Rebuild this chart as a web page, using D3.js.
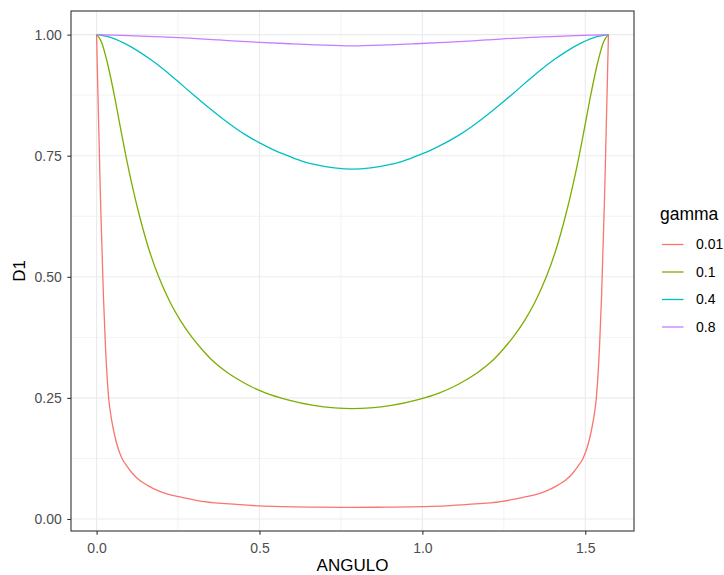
<!DOCTYPE html>
<html>
<head>
<meta charset="utf-8">
<script src="https://cdn.jsdelivr.net/npm/d3@7"></script>
<style>
  html, body { margin: 0; padding: 0; background: #fff; }
  svg { display: block; font-family: "Liberation Sans", Arial, sans-serif; }
</style>
</head>
<body>
<svg id="chart" width="724" height="575"></svg>
<script>
// ---- data ----
const gammaLevels = ["0.01", "0.1", "0.4", "0.8"];
const seriesColors = ["#F8766D", "#7CAE00", "#00BFC4", "#C77CFF"];

const angle001 = [0, 0.003, 0.008, 0.012, 0.017, 0.021, 0.027, 0.037, 0.046, 0.054, 0.065, 0.078, 0.092, 0.109, 0.130, 0.155, 0.190, 0.226, 0.260, 0.330, 0.430, 0.500, 0.570, 0.680, 0.785,
                  0.891, 1.001, 1.071, 1.141, 1.241, 1.311, 1.345, 1.381, 1.416, 1.441, 1.462, 1.479, 1.493, 1.506, 1.517, 1.525, 1.534, 1.544, 1.550, 1.554, 1.559, 1.563, 1.568, 1.571];
const d1_001 = [1, 0.91, 0.77, 0.66, 0.55, 0.46, 0.36, 0.25, 0.205, 0.177, 0.148, 0.125, 0.110, 0.095, 0.081, 0.070, 0.058, 0.050, 0.045, 0.036, 0.030, 0.027, 0.0255, 0.0245, 0.024,
                0.0245, 0.0255, 0.027, 0.030, 0.036, 0.045, 0.050, 0.058, 0.070, 0.081, 0.095, 0.110, 0.125, 0.148, 0.177, 0.205, 0.25, 0.36, 0.46, 0.55, 0.66, 0.77, 0.91, 1];

const angle01 = [0, 0.015, 0.032, 0.054, 0.072, 0.090, 0.110, 0.132, 0.160, 0.190, 0.226, 0.257, 0.293, 0.325, 0.359, 0.400, 0.440, 0.477, 0.520, 0.584, 0.666, 0.730, 0.785,
                 0.841, 0.905, 0.987, 1.051, 1.094, 1.131, 1.171, 1.212, 1.246, 1.278, 1.314, 1.345, 1.381, 1.411, 1.439, 1.461, 1.481, 1.499, 1.517, 1.539, 1.556, 1.571];
const d1_01 = [1, 0.985, 0.945, 0.876, 0.812, 0.749, 0.686, 0.625, 0.558, 0.501, 0.447, 0.410, 0.375, 0.349, 0.325, 0.303, 0.286, 0.2725, 0.260, 0.2465, 0.2345, 0.2295, 0.228,
               0.2295, 0.2345, 0.2465, 0.260, 0.2725, 0.286, 0.303, 0.325, 0.349, 0.375, 0.410, 0.447, 0.501, 0.558, 0.625, 0.686, 0.749, 0.812, 0.876, 0.945, 0.985, 1];

const angle04 = [0, 0.040, 0.083, 0.125, 0.165, 0.210, 0.252, 0.295, 0.339, 0.380, 0.420, 0.460, 0.502, 0.550, 0.594, 0.635, 0.676, 0.730, 0.785,
                 0.841, 0.895, 0.936, 0.977, 1.021, 1.069, 1.111, 1.151, 1.191, 1.232, 1.276, 1.319, 1.361, 1.406, 1.446, 1.488, 1.531, 1.571];
const d1_04 = [1, 0.995, 0.983, 0.967, 0.949, 0.926, 0.902, 0.877, 0.852, 0.830, 0.810, 0.792, 0.776, 0.760, 0.748, 0.738, 0.731, 0.725, 0.7225,
               0.725, 0.731, 0.738, 0.748, 0.760, 0.776, 0.792, 0.810, 0.830, 0.852, 0.877, 0.902, 0.926, 0.949, 0.967, 0.983, 0.995, 1];

const angle08 = [0, 0.100, 0.174, 0.252, 0.375, 0.502, 0.600, 0.676, 0.785, 0.895, 0.971, 1.069, 1.196, 1.319, 1.397, 1.471, 1.571];
const d1_08 = [1, 0.998, 0.996, 0.994, 0.989, 0.984, 0.981, 0.979, 0.977, 0.979, 0.981, 0.984, 0.989, 0.994, 0.996, 0.998, 1];

const xTicks = [0, 0.5, 1.0, 1.5];
const xMinor = [0.25, 0.75, 1.25];
const yTicks = [0, 0.25, 0.5, 0.75, 1.0];
const yMinor = [0.125, 0.375, 0.625, 0.875];

// ---- build series ----
const angleArrays = [angle001, angle01, angle04, angle08];
const valueArrays = [d1_001, d1_01, d1_04, d1_08];
const series = gammaLevels.map((g, i) => ({
  gamma: g,
  color: seriesColors[i],
  points: angleArrays[i].map((a, j) => ({ x: a, y: valueArrays[i][j] }))
}));

// ---- layout ----
const svg = d3.select("#chart");
const W = 724, H = 575;
const panel = { left: 71, right: 634, top: 11, bottom: 531 };

const allX = angleArrays.flat(), allY = valueArrays.flat();
const xExt = d3.extent(allX), yExt = d3.extent(allY);
const xPad = (xExt[1] - xExt[0]) * 0.05, yPad = (yExt[1] - yExt[0]) * 0.05;

const x = d3.scaleLinear().domain([xExt[0] - xPad, xExt[1] + xPad]).range([panel.left, panel.right]);
const y = d3.scaleLinear().domain([yExt[0] - yPad, yExt[1] + yPad]).range([panel.bottom, panel.top]);

svg.append("rect").attr("width", W).attr("height", H).attr("fill", "#fff");

// grid
const grid = svg.append("g");
grid.selectAll(".xminor").data(xMinor).join("line")
  .attr("x1", d => x(d)).attr("x2", d => x(d)).attr("y1", panel.top).attr("y2", panel.bottom)
  .attr("stroke", "#EBEBEB").attr("stroke-width", 0.6);
grid.selectAll(".yminor").data(yMinor).join("line")
  .attr("y1", d => y(d)).attr("y2", d => y(d)).attr("x1", panel.left).attr("x2", panel.right)
  .attr("stroke", "#EBEBEB").attr("stroke-width", 0.6);
grid.selectAll(".xmajor").data(xTicks).join("line")
  .attr("x1", d => x(d)).attr("x2", d => x(d)).attr("y1", panel.top).attr("y2", panel.bottom)
  .attr("stroke", "#EBEBEB").attr("stroke-width", 1.1);
grid.selectAll(".ymajor").data(yTicks).join("line")
  .attr("y1", d => y(d)).attr("y2", d => y(d)).attr("x1", panel.left).attr("x2", panel.right)
  .attr("stroke", "#EBEBEB").attr("stroke-width", 1.1);

// lines
const line = d3.line().x(d => x(d.x)).y(d => y(d.y)).curve(d3.curveMonotoneX);
svg.append("g").selectAll("path").data(series).join("path")
  .attr("d", d => line(d.points))
  .attr("fill", "none")
  .attr("stroke", d => d.color)
  .attr("stroke-width", 1.3);

// panel border
svg.append("rect")
  .attr("x", panel.left).attr("y", panel.top)
  .attr("width", panel.right - panel.left).attr("height", panel.bottom - panel.top)
  .attr("fill", "none").attr("stroke", "#333333").attr("stroke-width", 1.1);

// axes
const xAxis = d3.axisBottom(x).tickValues(xTicks).tickFormat(d3.format(".1f")).tickSize(3.7).tickPadding(8);
const gx = svg.append("g").attr("transform", `translate(0,${panel.bottom})`).call(xAxis);
gx.select(".domain").remove();
gx.selectAll(".tick line").attr("stroke", "#333333").attr("stroke-width", 1.1);
gx.selectAll(".tick text").attr("fill", "#4D4D4D").style("font-size", "14px")
  .style("font-family", "'Liberation Sans', Arial, sans-serif");

const yAxis = d3.axisLeft(y).tickValues(yTicks).tickFormat(d3.format(".2f")).tickSize(3.7).tickPadding(5.6);
const gy = svg.append("g").attr("transform", `translate(${panel.left},0)`).call(yAxis);
gy.select(".domain").remove();
gy.selectAll(".tick line").attr("stroke", "#333333").attr("stroke-width", 1.1);
gy.selectAll(".tick text").attr("fill", "#4D4D4D").style("font-size", "14px")
  .style("font-family", "'Liberation Sans', Arial, sans-serif");

// axis titles
svg.append("text").attr("x", (panel.left + panel.right) / 2).attr("y", 571)
  .attr("text-anchor", "middle").style("font-size", "17px").attr("fill", "#000").text("ANGULO");
svg.append("text").attr("transform", `translate(25,${(panel.top + panel.bottom) / 2}) rotate(-90)`)
  .attr("text-anchor", "middle").style("font-size", "17px").attr("fill", "#000").text("D1");

// legend
const legend = svg.append("g");
legend.append("text").attr("x", 660).attr("y", 220).style("font-size", "17.5px").attr("fill", "#000").text("gamma");
const rowY = [244.5, 272, 299.5, 327];
const rows = legend.selectAll(".row").data(series).join("g")
  .attr("transform", (d, i) => `translate(0,${rowY[i]})`);
rows.append("line").attr("x1", 662).attr("x2", 683.5).attr("y1", 0).attr("y2", 0)
  .attr("stroke", d => d.color).attr("stroke-width", 1.3);
rows.append("text").attr("x", 696).attr("y", 0).attr("dy", "0.35em")
  .style("font-size", "14px").attr("fill", "#000").text(d => d.gamma);
</script>
</body>
</html>
